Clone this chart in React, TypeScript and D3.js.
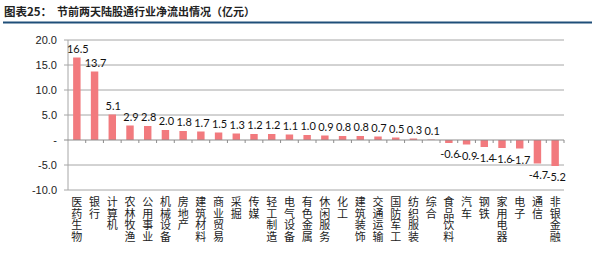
import React from 'react';
import { scaleBand, scaleLinear } from 'd3';

const width = 600;
const height = 257;

const categories = [
  '医药生物', '银行', '计算机', '农林牧渔', '公用事业', '机械设备', '房地产',
  '建筑材料', '商业贸易', '采掘', '传媒', '轻工制造', '电气设备', '有色金属',
  '休闲服务', '化工', '建筑装饰', '交通运输', '国防军工', '纺织服装', '综合',
  '食品饮料', '汽车', '钢铁', '家用电器', '电子', '通信', '非银金融',
];
const values = [
  16.5, 13.7, 5.1, 2.9, 2.8, 2.0, 1.8, 1.7, 1.5, 1.3, 1.2, 1.2, 1.1, 1.0,
  0.9, 0.8, 0.8, 0.7, 0.5, 0.3, 0.1, -0.6, -0.9, -1.4, -1.6, -1.7, -4.7, -5.2,
];
const yTicks = [20, 15, 10, 5, 0, -5, -10];
const yTickLabels = ['20.0', '15.0', '10.0', '5.0', '-', '-5.0', '-10.0'];

const plot = { left: 68, right: 564, top: 40, bottom: 190 };
const barColor = '#f27a7e';
const gridColor = '#a6a6a6';
const cjk = '"Noto Sans CJK SC", sans-serif';

export default function App() {
  const x = scaleBand<string>()
    .domain(categories)
    .range([plot.left, plot.right])
    .padding(0);
  const y = scaleLinear().domain([-10, 20]).range([plot.bottom, plot.top]);
  const bw = x.bandwidth();
  const barW = bw * 0.42;
  const y0 = y(0);

  return (
    <svg width={width} height={height} style={{ display: 'block', position: 'absolute', left: 0, top: 0 }}>
      <rect width={width} height={height} fill="#fff" />
      {/* title */}
      <text x={4} y={16} fontFamily={cjk} fontWeight="bold" fontSize={11.5} fill="#222">图表25：</text>
      <text x={57} y={16} fontFamily={cjk} fontWeight="bold" fontSize={11} fill="#222">
        节前两天陆股通行业净流出情况（亿元）
      </text>
      <line x1={3} x2={592} y1={22.5} y2={22.5} stroke="#1f4e79" strokeWidth={2} />

      {/* gridlines */}
      {yTicks.filter(t => t !== 0).map(t => (
        <line key={t} x1={plot.left - 4} x2={plot.right} y1={y(t)} y2={y(t)} stroke={gridColor} strokeWidth={1} />
      ))}
      <line x1={plot.left} x2={plot.left} y1={plot.top} y2={plot.bottom} stroke={gridColor} />

      {/* y labels */}
      {yTicks.map((t, i) => (
        <text key={t} x={57} y={y(t) + 4} textAnchor="end" fontFamily="'Liberation Sans', Arial, sans-serif"
          fontSize={11} fill="#222">{yTickLabels[i]}</text>
      ))}

      {/* bars */}
      {values.map((v, i) => {
        const cx = (x(categories[i]) as number) + bw / 2;
        const top = Math.min(y(v), y0);
        const h = Math.abs(y(v) - y0);
        return (
          <g key={categories[i]}>
            <rect x={cx - barW / 2} y={top} width={barW} height={h} fill={barColor} />
            <text x={cx + 1} y={v >= 0 ? y(v) - 5 : y(v) + 15} textAnchor="middle"
              fontFamily="Lato, 'Open Sans', sans-serif" fontSize={11} fill="#111">
              {v.toFixed(1)}
            </text>
          </g>
        );
      })}

      {/* zero axis with ticks */}
      <line x1={plot.left - 4} x2={plot.right} y1={y0} y2={y0} stroke="#8c8c8c" />
      {categories.map(c => (
        <line key={c} x1={(x(c) as number) + bw} x2={(x(c) as number) + bw} y1={y0} y2={y0 + 3} stroke="#8c8c8c" />
      ))}

      {/* category labels, stacked vertically */}
      {categories.map(c => {
        const cx = (x(c) as number) + bw / 2;
        return (
          <g key={c}>
            {Array.from(c).map((ch, j) => (
              <text key={j} x={cx} y={206 + j * 11.5} textAnchor="middle" fontFamily={cjk}
                fontSize={11} fill="#222">{ch}</text>
            ))}
          </g>
        );
      })}
    </svg>
  );
}
